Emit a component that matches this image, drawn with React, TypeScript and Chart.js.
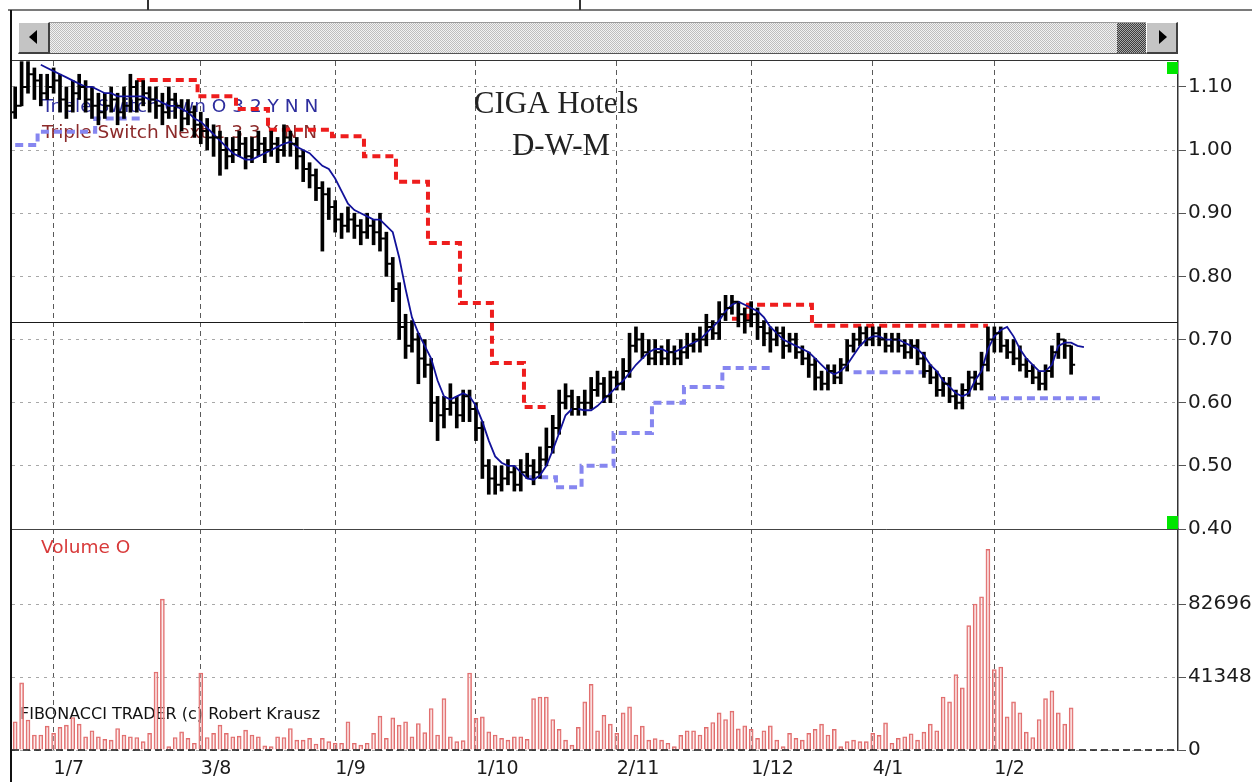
import React, { useEffect, useRef } from "react";
import { Chart, registerables } from "chart.js";

Chart.register(...registerables);

// ---------------- data ----------------
const DATE_LABELS = ["1/7", "3/8", "1/9", "1/10", "2/11", "1/12", "4/1", "1/2"];
const DATE_INDEX = [6, 29, 50, 72, 94, 115, 134, 153];
const PRICE_TICKS = [0.4, 0.5, 0.6, 0.7, 0.8, 0.9, 1.0, 1.1];
const VOLUME_TICKS = [0, 41348, 82696];
const PRICE_MIN = 0.4;
const PRICE_MAX = 1.141;
const VOLUME_MAX = 125200;
const X_MIN = -0.5;
const X_MAX = 181.7;
const REF_LEVEL = 0.728;

const OPEN = [
  1.06, 1.07, 1.10, 1.12, 1.11, 1.09, 1.10, 1.11, 1.08, 1.07,
  1.09, 1.10, 1.08, 1.07, 1.06, 1.07, 1.08, 1.06, 1.07, 1.10,
  1.08, 1.09, 1.08, 1.07, 1.06, 1.08, 1.07, 1.05, 1.06, 1.04,
  1.03, 1.02, 1.02, 1.00, 0.99, 1.00, 1.01, 0.99, 1.00, 1.01,
  1.00, 1.01, 1.00, 1.02, 1.01, 0.99, 0.97, 0.96, 0.94, 0.93,
  0.91, 0.89, 0.88, 0.89, 0.88, 0.87, 0.88, 0.87, 0.86, 0.82,
  0.78, 0.72, 0.69, 0.70, 0.67, 0.66, 0.60, 0.58, 0.59, 0.60,
  0.58, 0.61, 0.59, 0.56, 0.50, 0.48, 0.47, 0.48, 0.49, 0.47,
  0.49, 0.50, 0.49, 0.51, 0.53, 0.56, 0.60, 0.61, 0.59, 0.60,
  0.60, 0.62, 0.63, 0.61, 0.64, 0.63, 0.65, 0.69, 0.70, 0.68,
  0.67, 0.68, 0.67, 0.68, 0.67, 0.68, 0.69, 0.70, 0.70, 0.72,
  0.71, 0.74, 0.75, 0.76, 0.74, 0.73, 0.74, 0.72, 0.71, 0.70,
  0.71, 0.69, 0.70, 0.68, 0.67, 0.66, 0.64, 0.63, 0.65, 0.64,
  0.66, 0.69, 0.70, 0.71, 0.70, 0.71, 0.70, 0.69, 0.70, 0.69,
  0.68, 0.69, 0.67, 0.65, 0.64, 0.62, 0.63, 0.61, 0.60, 0.62,
  0.64, 0.63, 0.66, 0.70, 0.71, 0.69, 0.68, 0.67, 0.66, 0.65,
  0.64, 0.63, 0.65, 0.68, 0.70, 0.69,
];

const HIGH = [
  1.10, 1.14, 1.14, 1.13, 1.12, 1.12, 1.13, 1.12, 1.10, 1.11,
  1.12, 1.11, 1.10, 1.09, 1.09, 1.10, 1.09, 1.10, 1.12, 1.11,
  1.11, 1.10, 1.10, 1.09, 1.10, 1.09, 1.08, 1.08, 1.07, 1.06,
  1.05, 1.04, 1.03, 1.02, 1.02, 1.03, 1.02, 1.02, 1.03, 1.02,
  1.03, 1.02, 1.04, 1.03, 1.02, 1.00, 0.98, 0.97, 0.95, 0.94,
  0.92, 0.90, 0.91, 0.90, 0.89, 0.90, 0.89, 0.90, 0.87, 0.83,
  0.79, 0.74, 0.73, 0.71, 0.70, 0.67, 0.61, 0.61, 0.63, 0.61,
  0.62, 0.62, 0.60, 0.57, 0.51, 0.50, 0.50, 0.51, 0.50, 0.51,
  0.52, 0.51, 0.53, 0.56, 0.58, 0.62, 0.63, 0.62, 0.61, 0.62,
  0.64, 0.65, 0.64, 0.65, 0.65, 0.67, 0.71, 0.72, 0.71, 0.70,
  0.70, 0.69, 0.70, 0.69, 0.70, 0.71, 0.71, 0.72, 0.74, 0.73,
  0.76, 0.77, 0.77, 0.76, 0.75, 0.76, 0.75, 0.73, 0.72, 0.72,
  0.72, 0.71, 0.71, 0.69, 0.68, 0.67, 0.65, 0.66, 0.66, 0.67,
  0.70, 0.71, 0.72, 0.72, 0.72, 0.72, 0.71, 0.71, 0.71, 0.70,
  0.70, 0.70, 0.68, 0.66, 0.65, 0.64, 0.64, 0.62, 0.63, 0.65,
  0.65, 0.68, 0.72, 0.72, 0.72, 0.70, 0.70, 0.69, 0.67, 0.66,
  0.65, 0.66, 0.69, 0.71, 0.70, 0.69,
];

const LOW = [
  1.05, 1.07, 1.09, 1.08, 1.07, 1.08, 1.09, 1.06, 1.05, 1.06,
  1.08, 1.06, 1.05, 1.04, 1.05, 1.06, 1.04, 1.05, 1.06, 1.06,
  1.07, 1.06, 1.05, 1.04, 1.05, 1.05, 1.03, 1.04, 1.02, 1.01,
  1.00, 0.99, 0.96, 0.97, 0.98, 0.99, 0.97, 0.98, 0.99, 0.98,
  0.99, 0.98, 0.99, 0.99, 0.97, 0.95, 0.94, 0.92, 0.84, 0.89,
  0.87, 0.86, 0.87, 0.86, 0.85, 0.86, 0.85, 0.84, 0.80, 0.76,
  0.70, 0.67, 0.68, 0.63, 0.64, 0.57, 0.54, 0.56, 0.58, 0.56,
  0.57, 0.57, 0.54, 0.48, 0.455, 0.455, 0.46, 0.47, 0.46, 0.46,
  0.48, 0.47, 0.48, 0.50, 0.52, 0.55, 0.59, 0.58, 0.58, 0.58,
  0.59, 0.61, 0.60, 0.60, 0.62, 0.62, 0.64, 0.68, 0.67, 0.66,
  0.66, 0.66, 0.66, 0.66, 0.66, 0.67, 0.68, 0.68, 0.69, 0.70,
  0.70, 0.73, 0.74, 0.72, 0.71, 0.72, 0.70, 0.69, 0.68, 0.69,
  0.67, 0.68, 0.67, 0.66, 0.64, 0.62, 0.62, 0.62, 0.63, 0.63,
  0.65, 0.68, 0.69, 0.69, 0.69, 0.69, 0.68, 0.68, 0.68, 0.67,
  0.67, 0.66, 0.64, 0.63, 0.61, 0.61, 0.60, 0.59, 0.59, 0.61,
  0.62, 0.62, 0.65, 0.68, 0.68, 0.67, 0.66, 0.65, 0.64, 0.63,
  0.62, 0.62, 0.64, 0.67, 0.67, 0.645,
];

const CLOSE = [
  1.07, 1.10, 1.12, 1.11, 1.09, 1.10, 1.11, 1.08, 1.07, 1.09,
  1.10, 1.08, 1.07, 1.06, 1.07, 1.08, 1.06, 1.07, 1.10, 1.08,
  1.09, 1.08, 1.07, 1.06, 1.08, 1.07, 1.05, 1.06, 1.04, 1.03,
  1.02, 1.02, 1.00, 0.99, 1.00, 1.01, 0.99, 1.00, 1.01, 1.00,
  1.01, 1.00, 1.02, 1.01, 0.99, 0.97, 0.96, 0.94, 0.93, 0.91,
  0.89, 0.88, 0.89, 0.88, 0.87, 0.88, 0.87, 0.86, 0.82, 0.78,
  0.72, 0.69, 0.70, 0.67, 0.66, 0.60, 0.58, 0.59, 0.60, 0.58,
  0.61, 0.59, 0.56, 0.50, 0.48, 0.47, 0.48, 0.49, 0.47, 0.49,
  0.50, 0.49, 0.51, 0.53, 0.56, 0.60, 0.61, 0.59, 0.60, 0.60,
  0.62, 0.63, 0.61, 0.64, 0.63, 0.65, 0.69, 0.70, 0.68, 0.67,
  0.68, 0.67, 0.68, 0.67, 0.68, 0.69, 0.70, 0.70, 0.72, 0.71,
  0.74, 0.75, 0.76, 0.74, 0.73, 0.74, 0.72, 0.71, 0.70, 0.71,
  0.69, 0.70, 0.68, 0.67, 0.66, 0.64, 0.63, 0.65, 0.64, 0.66,
  0.69, 0.70, 0.71, 0.70, 0.71, 0.70, 0.69, 0.70, 0.69, 0.68,
  0.69, 0.67, 0.65, 0.64, 0.62, 0.63, 0.61, 0.60, 0.62, 0.64,
  0.63, 0.66, 0.70, 0.71, 0.69, 0.68, 0.67, 0.66, 0.65, 0.64,
  0.63, 0.65, 0.68, 0.70, 0.69, 0.66,
];

const VOLUME = [
  16000, 38000, 17000, 8500, 8500, 13500, 9400, 12800, 14100, 18400,
  14700, 7500, 10900, 7500, 6000, 5600, 12200, 8500, 7500, 7100,
  4700, 9400, 44200, 85500, 1900, 7100, 10300, 6600, 3800, 43600,
  7100, 9400, 14100, 9400, 7500, 7900, 11300, 8500, 7500, 2300,
  1900, 7500, 7100, 12200, 5600, 5600, 6600, 3400, 6600, 4700,
  3800, 3800, 16000, 3800, 2800, 3800, 9400, 19200, 6600, 18200,
  14100, 16000, 7500, 15000, 9800, 23500, 8500, 29100, 7500, 4700,
  5300, 43600, 17900, 18800, 10300, 8500, 6600, 5600, 7500, 7500,
  6000, 29100, 30000, 30000, 17300, 11650, 5600, 2800, 12800, 27300,
  37200, 10900, 19700, 14700, 9400, 21000, 24400, 8500, 13500, 5600,
  6400, 5600, 3800, 1900, 8300, 10900, 10900, 8500, 12800, 15600,
  21000, 17300, 22000, 12000, 13700, 11650, 6600, 10900, 13700, 5600,
  1900, 9400, 6600, 5600, 9400, 11650, 14700, 8500, 11650, 1900,
  4700, 5600, 4700, 4700, 9400, 8300, 15400, 3800, 6600, 7500,
  9200, 5600, 10100, 14700, 10900, 30000, 27300, 42700, 35200, 70500,
  82700, 86800, 113700, 45500, 47000, 18800, 27300, 21000, 10100, 7100,
  17300, 29100, 33500, 21000, 14700, 23900,
];

// Triple Switch "Own" line (dark blue)
const TS_OWN = [
  null, null, null, null, 1.135, 1.13, 1.125, 1.12, 1.115, 1.11,
  1.105, 1.10, 1.10, 1.095, 1.09, 1.09, 1.085, 1.085, 1.085, 1.085,
  1.085, 1.08, 1.08, 1.075, 1.07, 1.07, 1.065, 1.06, 1.05, 1.045,
  1.035, 1.025, 1.015, 1.005, 0.995, 0.99, 0.985, 0.985, 0.99, 0.995,
  1.00, 1.005, 1.01, 1.013, 1.005, 1.00, 0.995, 0.985, 0.975, 0.97,
  0.955, 0.935, 0.915, 0.905, 0.90, 0.895, 0.89, 0.89, 0.88, 0.87,
  0.83, 0.78, 0.735, 0.71, 0.69, 0.67, 0.635, 0.61, 0.605, 0.61,
  0.615, 0.61, 0.595, 0.57, 0.54, 0.515, 0.505, 0.50, 0.50, 0.49,
  0.48, 0.478, 0.485, 0.50, 0.525, 0.552, 0.58, 0.59, 0.59, 0.588,
  0.588, 0.595, 0.605, 0.615, 0.625, 0.635, 0.647, 0.66, 0.67, 0.68,
  0.685, 0.685, 0.68, 0.68, 0.685, 0.69, 0.695, 0.70, 0.71, 0.72,
  0.73, 0.745, 0.755, 0.76, 0.755, 0.75, 0.745, 0.735, 0.72, 0.71,
  0.70, 0.695, 0.69, 0.685, 0.68, 0.67, 0.66, 0.65, 0.645, 0.65,
  0.66, 0.675, 0.69, 0.70, 0.705, 0.705, 0.70, 0.70, 0.70, 0.695,
  0.69, 0.685, 0.675, 0.66, 0.65, 0.635, 0.625, 0.615, 0.61, 0.615,
  0.635, 0.65, 0.685, 0.705, 0.715, 0.72, 0.705, 0.685, 0.67, 0.66,
  0.65, 0.65, 0.66, 0.69, 0.695, 0.695, 0.69, 0.688,
];

// red dashed stop (resistance)
const RED_STOP = [
  null, null, null, null, null, null, null, null, null, null,
  null, null, null, null, null, null, null, null, null, 1.111,
  1.111, 1.111, 1.111, 1.111, 1.111, 1.111, 1.111, 1.111, 1.111, 1.085,
  1.085, 1.085, 1.085, 1.085, 1.085, 1.065, 1.065, 1.065, 1.065, 1.065,
  1.032, 1.032, 1.032, 1.032, 1.032, 1.032, 1.032, 1.032, 1.032, 1.032,
  1.022, 1.022, 1.022, 1.022, 1.022, 0.99, 0.99, 0.99, 0.99, 0.99,
  0.95, 0.95, 0.95, 0.95, 0.95, 0.853, 0.853, 0.853, 0.853, 0.853,
  0.758, 0.758, 0.758, 0.758, 0.758, 0.663, 0.663, 0.663, 0.663, 0.663,
  0.593, 0.593, 0.593, 0.593, null, null, null, null, null, null,
  null, null, null, null, null, null, null, null, null, null,
  null, null, null, null, null, null, null, null, null, null,
  null, null, 0.733, 0.733, 0.733, 0.755, 0.755, 0.755, 0.755, 0.755,
  0.755, 0.755, 0.755, 0.755, 0.755, 0.722, 0.722, 0.722, 0.722, 0.722,
  0.722, 0.722, 0.722, 0.722, 0.722, 0.722, 0.722, 0.722, 0.722, 0.722,
  0.722, 0.722, 0.722, 0.722, 0.722, 0.722, 0.722, 0.722, 0.722, 0.722,
  0.722, 0.722, 0.722,
];

// light blue dashed stop (support)
const BLUE_STOP = [
  1.008, 1.008, 1.008, 1.008, 1.029, 1.029, 1.029, 1.029, 1.029, 1.029,
  1.029, 1.029, 1.029, 1.05, 1.05, 1.05, 1.05, 1.05, 1.05, 1.05,
  1.05, null, null, null, null, null, null, null, null, null,
  null, null, null, null, null, null, null, null, null, null,
  null, null, null, null, null, null, null, null, null, null,
  null, null, null, null, null, null, null, null, null, null,
  null, null, null, null, null, null, null, null, null, null,
  null, null, null, null, null, null, null, null, null, null,
  0.482, 0.482, 0.482, 0.482, 0.482, 0.466, 0.466, 0.466, 0.466, 0.50,
  0.50, 0.50, 0.50, 0.50, 0.552, 0.552, 0.552, 0.552, 0.552, 0.552,
  0.60, 0.60, 0.60, 0.60, 0.60, 0.625, 0.625, 0.625, 0.625, 0.625,
  0.625, 0.655, 0.655, 0.655, 0.655, 0.655, 0.655, 0.655, 0.655, null,
  null, null, null, null, null, null, null, null, null, null,
  null, 0.648, 0.648, 0.648, 0.648, 0.648, 0.648, 0.648, 0.648, 0.648,
  0.648, 0.648, 0.648, 0.648, null, null, null, null, null, null,
  null, null, 0.607, 0.607, 0.607, 0.607, 0.607, 0.607, 0.607, 0.607,
  0.607, 0.607, 0.607, 0.607, 0.607, 0.607, 0.607, 0.607, 0.607, 0.607,
  0.607,
];

const TITLE_LINES = ["CIGA Hotels", "D-W-M"];
const LEGEND_OWN = "Triple Switch Own O 3 2 Y N N";
const LEGEND_NEXT = "Triple Switch Next 1 3 3 Y N N";
const VOLUME_TITLE = "Volume O";
const CREDIT = "FIBONACCI TRADER (c) Robert Krausz";

const SANS = '"DejaVu Sans", "Liberation Sans", sans-serif';
const SERIF = '"Liberation Serif", "DejaVu Serif", serif';

const decorPlugin = {
  id: "decor",
  beforeDatasetsDraw(chart: any) {
    const { ctx, chartArea: a, scales } = chart;
    ctx.save();
    const yRef = scales.y.getPixelForValue(REF_LEVEL);
    ctx.strokeStyle = "#1a1a1a";
    ctx.lineWidth = 1;
    ctx.beginPath();
    ctx.moveTo(a.left, Math.round(yRef) + 0.5);
    ctx.lineTo(a.right, Math.round(yRef) + 0.5);
    ctx.stroke();

    ctx.textAlign = "left";
    ctx.textBaseline = "middle";
    ctx.font = `18.5px ${SANS}`;
    ctx.fillStyle = "#2e2e9e";
    ctx.fillText(LEGEND_OWN, a.left + 30, 107);
    ctx.fillStyle = "#8c2a2a";
    ctx.fillText(LEGEND_NEXT, a.left + 30, 133);
    ctx.fillStyle = "#d83a3a";
    ctx.fillText(VOLUME_TITLE, a.left + 29, scales.yVol.top + 19);
    ctx.font = `16px ${SANS}`;
    ctx.fillStyle = "#111";
    ctx.fillText(CREDIT, a.left + 8, 715);

    ctx.font = `31px ${SERIF}`;
    ctx.fillStyle = "#222";
    ctx.textAlign = "center";
    ctx.textBaseline = "alphabetic";
    ctx.fillText(TITLE_LINES[0], 556, 113);
    ctx.fillText(TITLE_LINES[1], 561, 155);
    ctx.restore();
  },
  afterDatasetsDraw(chart: any) {
    const { ctx, chartArea: a, scales } = chart;
    const meta = chart.getDatasetMeta(0);
    ctx.save();
    ctx.strokeStyle = "#000";
    ctx.lineWidth = 2;
    ctx.beginPath();
    meta.data.forEach((el: any, i: number) => {
      const yo = scales.y.getPixelForValue(OPEN[i]);
      const yc = scales.y.getPixelForValue(CLOSE[i]);
      ctx.moveTo(el.x - 4, yo);
      ctx.lineTo(el.x, yo);
      ctx.moveTo(el.x, yc);
      ctx.lineTo(el.x + 4, yc);
    });
    ctx.stroke();

    const sep = scales.yVol.top;
    ctx.strokeStyle = "#444";
    ctx.lineWidth = 1;
    ctx.beginPath();
    ctx.moveTo(a.left, Math.round(sep) + 0.5);
    ctx.lineTo(a.right, Math.round(sep) + 0.5);
    ctx.stroke();

    const base = scales.yVol.getPixelForValue(0);
    ctx.strokeStyle = "#111";
    ctx.lineWidth = 1.5;
    ctx.setLineDash([7, 4]);
    ctx.beginPath();
    ctx.moveTo(a.left, base);
    ctx.lineTo(a.right, base);
    ctx.stroke();
    ctx.setLineDash([]);

    ctx.fillStyle = "#00e600";
    ctx.fillRect(a.right - 11, a.top + 1, 11, 12);
    ctx.fillRect(a.right - 11, sep - 13, 11, 13);
    ctx.restore();
  },
};

const checker = (c1: string, c2: string) =>
  `repeating-conic-gradient(${c1} 0% 25%, ${c2} 0% 50%) 0 0 / 2px 2px`;

const btn: React.CSSProperties = {
  position: "absolute",
  top: 22,
  width: 32,
  height: 32,
  boxSizing: "border-box",
  background: "#c4c4c4",
  borderTop: "1px solid #fff",
  borderLeft: "1px solid #fff",
  borderRight: "2px solid #404040",
  borderBottom: "2px solid #404040",
};

export default function App() {
  const ref = useRef<HTMLCanvasElement>(null);

  useEffect(() => {
    const canvas = ref.current;
    if (!canvas) return;
    const toXY = (arr: (number | null)[]) => arr.map((v, i) => ({ x: i, y: v }));
    const tickFont = { family: SANS, size: 20 };

    const chart = new Chart(canvas, {
      type: "bar",
      data: {
        datasets: [
          {
            type: "bar",
            label: "Price",
            data: HIGH.map((h, i) => ({ x: i, y: [LOW[i], h] })) as any,
            yAxisID: "y",
            backgroundColor: "#000",
            borderWidth: 0,
            barThickness: 3,
            grouped: false,
            order: 1,
          },
          {
            type: "line",
            label: "Triple Switch Own",
            data: toXY(TS_OWN) as any,
            yAxisID: "y",
            borderColor: "#12129a",
            borderWidth: 1.8,
            pointRadius: 0,
            tension: 0,
            order: 0,
          },
          {
            type: "line",
            label: "Resistance",
            data: toXY(RED_STOP) as any,
            yAxisID: "y",
            borderColor: "#ee1d1d",
            borderWidth: 4,
            borderDash: [8, 5],
            stepped: "middle",
            pointRadius: 0,
            order: 2,
          },
          {
            type: "line",
            label: "Support",
            data: toXY(BLUE_STOP) as any,
            yAxisID: "y",
            borderColor: "#8686f0",
            borderWidth: 4,
            borderDash: [8, 5],
            stepped: "middle",
            pointRadius: 0,
            order: 2,
          },
          {
            type: "bar",
            label: "Volume",
            data: toXY(VOLUME) as any,
            yAxisID: "yVol",
            backgroundColor: "rgba(250,205,205,0.35)",
            borderColor: "#e06a6a",
            borderWidth: 1,
            barThickness: 4,
            grouped: false,
            order: 5,
          },
        ],
      },
      options: {
        animation: false,
        responsive: false,
        devicePixelRatio: 1,
        events: [],
        layout: { padding: { left: 12, top: 61, right: 0, bottom: 0 } },
        plugins: { legend: { display: false }, tooltip: { enabled: false }, title: { display: false } },
        scales: {
          x: {
            type: "linear",
            min: X_MIN,
            max: X_MAX,
            offset: false,
            afterBuildTicks: (s: any) => {
              s.ticks = DATE_INDEX.map((v) => ({ value: v }));
            },
            afterFit: (s: any) => {
              s.height = 32;
            },
            ticks: {
              autoSkip: false,
              maxRotation: 0,
              minRotation: 0,
              align: "start",
              padding: 3,
              color: "#1c1c1c",
              font: { family: SANS, size: 19 },
              callback: (_v: any, i: number) => DATE_LABELS[i],
            },
            grid: { offset: false, color: "#5a5a5a", lineWidth: 1, tickLength: 5, tickColor: "rgba(0,0,0,0)" },
            border: { display: false, dash: [5, 4] },
          } as any,
          yVol: {
            type: "linear",
            position: "right",
            stack: "panes",
            stackWeight: 221,
            weight: 2,
            min: 0,
            max: VOLUME_MAX,
            afterBuildTicks: (s: any) => {
              s.ticks = VOLUME_TICKS.map((v) => ({ value: v }));
            },
            afterFit: (s: any) => {
              s.width = 74;
            },
            ticks: {
              autoSkip: false,
              padding: 2,
              color: "#1c1c1c",
              font: tickFont,
              callback: (v: any) => String(v),
            },
            grid: { color: "#a8a8a8", tickColor: "#555", tickLength: 8 },
            border: { display: true, color: "#333", width: 1.5, dash: [3, 5] },
          } as any,
          y: {
            type: "linear",
            position: "right",
            stack: "panes",
            stackWeight: 468,
            weight: 1,
            min: PRICE_MIN,
            max: PRICE_MAX,
            afterBuildTicks: (s: any) => {
              s.ticks = PRICE_TICKS.map((v) => ({ value: v }));
            },
            afterFit: (s: any) => {
              s.width = 74;
            },
            ticks: {
              autoSkip: false,
              padding: 2,
              color: "#1c1c1c",
              font: tickFont,
              callback: (v: any) => Number(v).toFixed(2),
            },
            grid: { color: "#a8a8a8", tickColor: "#555", tickLength: 8 },
            border: { display: true, color: "#333", width: 1.5, dash: [3, 5] },
          } as any,
        },
      },
      plugins: [decorPlugin],
    } as any);

    return () => chart.destroy();
  }, []);

  return (
    <div
      style={{
        position: "absolute",
        left: 0,
        top: 0,
        width: 1252,
        height: 782,
        background: "#fff",
        overflow: "hidden",
      }}
    >
      <canvas
        ref={ref}
        width={1252}
        height={782}
        style={{ position: "absolute", left: 0, top: 0, width: 1252, height: 782 }}
      />
      {/* window frame */}
      <div style={{ position: "absolute", left: 8, top: 9, width: 1244, height: 2, background: "#7a7a7a" }} />
      <div style={{ position: "absolute", left: 147, top: 0, width: 2, height: 10, background: "#333" }} />
      <div style={{ position: "absolute", left: 579, top: 0, width: 2, height: 10, background: "#333" }} />
      <div style={{ position: "absolute", left: 10, top: 10, width: 2, height: 772, background: "#111" }} />
      <div style={{ position: "absolute", left: 12, top: 60, width: 1166, height: 1, background: "#333" }} />
      {/* scrollbar */}
      <div
        style={{
          position: "absolute",
          left: 18,
          top: 22,
          width: 1160,
          height: 32,
          boxSizing: "border-box",
          borderTop: "1px solid #9a9a9a",
          borderBottom: "1px solid #555",
          background: checker("#bdbdbd", "#f2f2f2"),
        }}
      />
      <div style={{ ...btn, left: 18 }}>
        <div
          style={{
            position: "absolute",
            left: 10,
            top: 7,
            width: 0,
            height: 0,
            borderTop: "7px solid transparent",
            borderBottom: "7px solid transparent",
            borderRight: "8px solid #000",
          }}
        />
      </div>
      <div
        style={{
          position: "absolute",
          left: 1117,
          top: 23,
          width: 29,
          height: 30,
          background: checker("#3c3c3c", "#a8a8a8"),
        }}
      />
      <div style={{ ...btn, left: 1146 }}>
        <div
          style={{
            position: "absolute",
            left: 12,
            top: 7,
            width: 0,
            height: 0,
            borderTop: "7px solid transparent",
            borderBottom: "7px solid transparent",
            borderLeft: "8px solid #000",
          }}
        />
      </div>
    </div>
  );
}
